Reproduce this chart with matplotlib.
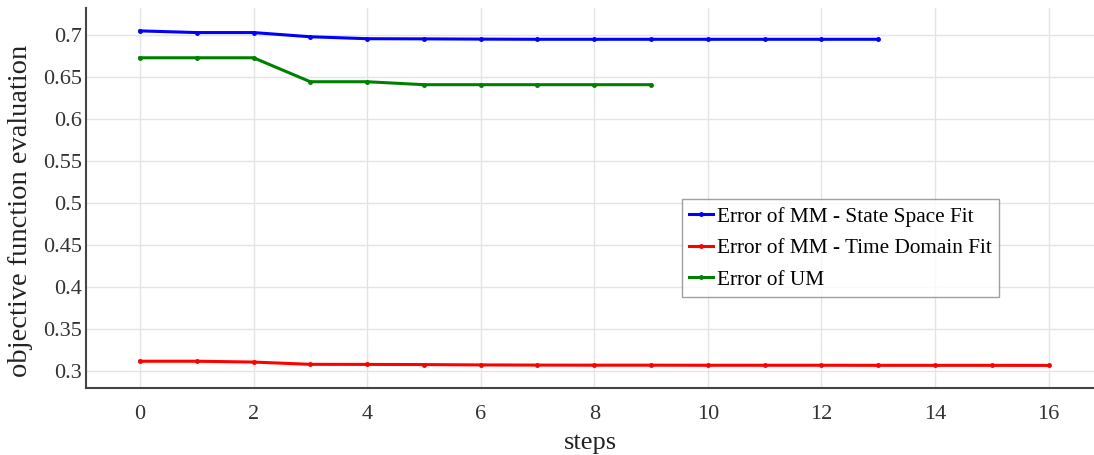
import numpy as np
import matplotlib.pyplot as plt

plt.rcParams['font.family'] = ['Liberation Serif', 'DejaVu Serif']

# objective function value per optimisation step
steps_ss = np.arange(0, 14)
err_ss = [0.705, 0.703, 0.703, 0.698, 0.6957, 0.6955, 0.6952, 0.695, 0.695,
          0.695, 0.695, 0.695, 0.695, 0.695]

steps_td = np.arange(0, 17)
err_td = [0.312, 0.312, 0.311, 0.3083, 0.3082, 0.308, 0.3076, 0.3074, 0.3073,
          0.3073, 0.3072, 0.3072, 0.3072, 0.3071, 0.3071, 0.3071, 0.307]

steps_um = np.arange(0, 10)
err_um = [0.673, 0.673, 0.673, 0.6445, 0.6445, 0.641, 0.641, 0.641, 0.641, 0.641]

xticks = np.arange(0, 17, 2)
yticks = np.arange(0.30, 0.701, 0.05)
ytick_labels = ['0.3', '0.35', '0.4', '0.45', '0.5', '0.55', '0.6', '0.65', '0.7']

fig = plt.figure(figsize=(10.94, 4.55), dpi=100)
ax = fig.add_axes([0.0786, 0.147, 0.9214, 0.835])

ax.plot(steps_ss, err_ss, color='#0000ff', lw=2.2, marker='o', ms=2.5,
        label='Error of MM - State Space Fit')
ax.plot(steps_td, err_td, color='#ff0000', lw=2.2, marker='o', ms=2.5,
        label='Error of MM - Time Domain Fit')
ax.plot(steps_um, err_um, color='#008000', lw=2.2, marker='o', ms=2.5,
        label='Error of UM')

ax.set_xlim(-0.95, 16.8)
ax.set_ylim(0.28, 0.732)
ax.set_xticks(xticks)
ax.set_yticks(yticks)
ax.set_yticklabels(ytick_labels)
ax.tick_params(length=0, labelsize=16, colors='#333333')
ax.tick_params(axis='y', pad=3)
ax.tick_params(axis='x', pad=12)

ax.set_xlabel('steps', fontsize=19, color='#222222', labelpad=6)
ax.set_ylabel('objective function evaluation', fontsize=20.5, color='#222222')
ax.yaxis.set_label_coords(-0.053, 0.466)

ax.grid(color='#e4e4e4', linewidth=1)
ax.set_axisbelow(True)
for s in ['top', 'right']:
    ax.spines[s].set_visible(False)
for s in ['left', 'bottom']:
    ax.spines[s].set_color('#444444')
    ax.spines[s].set_linewidth(1.5)

leg = ax.legend(loc='upper left', bbox_to_anchor=(0.591, 0.497), fontsize=15.3,
                frameon=True, fancybox=False, handlelength=1.1, handletextpad=0.2,
                borderpad=0.35, labelspacing=0.55, borderaxespad=0)
leg.get_frame().set_edgecolor('#888888')
leg.get_frame().set_linewidth(1)

fig.savefig('out.png', dpi=100)
